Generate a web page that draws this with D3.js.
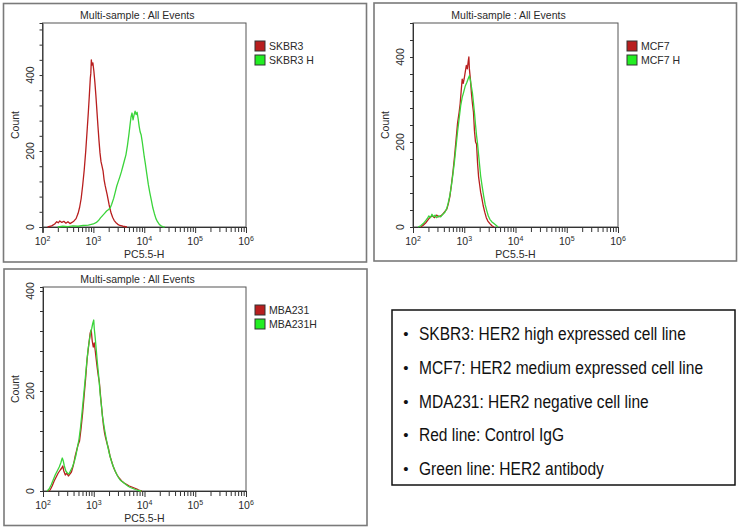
<!DOCTYPE html>
<html>
<head>
<meta charset="utf-8">
<script src="https://cdn.jsdelivr.net/npm/d3@7"></script>
<style>
  html, body { margin: 0; padding: 0; background: #fff; }
  svg { display: block; font-family: "Liberation Sans", Arial, sans-serif; }
</style>
</head>
<body>
<svg id="chart" width="742" height="529"></svg>
<script>
// ---------------- DATA ----------------
const titleText = "Multi-sample : All Events";
const xAxisLabel = "PC5.5-H";
const yAxisLabel = "Count";
const xTickExponents = [2, 3, 4, 5, 6];
const yTickLabels = [0, 200, 400];

// legend names per panel (control, antibody)
const skbr3Names = ["SKBR3", "SKBR3 H"];
const mcf7Names = ["MCF7", "MCF7 H"];
const mba231Names = ["MBA231", "MBA231H"];

// histogram series: log10(PC5.5-H) and count
const skbr3Exp   = [2.10,2.18,2.24,2.28,2.31,2.34,2.38,2.42,2.46,2.50,2.54,2.58,2.62,2.66,2.70,2.73,2.76,2.79,2.82,2.85,2.88,2.90,2.92,2.94,2.95,2.96,2.97,2.99,3.01,3.03,3.05,3.07,3.09,3.11,3.13,3.15,3.17,3.19,3.21,3.23,3.25,3.27,3.29,3.31,3.33,3.35,3.38,3.41,3.44,3.48,3.52,3.58,3.66];
const skbr3Count = [0,3,8,14,11,16,12,15,10,14,9,12,16,22,36,52,75,110,150,200,260,300,345,392,405,440,426,432,410,380,345,305,265,228,195,172,160,148,125,110,98,86,72,58,46,36,25,17,12,7,4,2,0];

const skbr3HExp   = [2.30,2.40,2.50,2.60,2.70,2.80,2.90,3.00,3.06,3.10,3.14,3.18,3.22,3.26,3.30,3.33,3.36,3.40,3.43,3.46,3.49,3.52,3.55,3.58,3.61,3.64,3.67,3.70,3.72,3.74,3.76,3.78,3.80,3.82,3.84,3.86,3.88,3.90,3.92,3.94,3.96,3.98,4.00,4.02,4.05,4.08,4.11,4.14,4.17,4.20,4.23,4.26,4.29,4.32,4.36,4.40];
const skbr3HCount = [0,2,1,3,2,4,5,8,12,17,24,30,36,42,46,50,60,76,92,108,120,132,145,160,175,190,215,245,268,290,300,282,295,305,296,302,285,265,250,242,225,205,185,168,140,112,90,70,50,35,22,14,8,4,1,0];

const mcf7Exp   = [2.15,2.20,2.25,2.30,2.34,2.38,2.42,2.46,2.50,2.54,2.58,2.62,2.66,2.69,2.72,2.75,2.78,2.81,2.84,2.87,2.90,2.92,2.94,2.96,2.98,3.00,3.02,3.04,3.06,3.08,3.09,3.10,3.12,3.14,3.16,3.18,3.20,3.22,3.24,3.26,3.28,3.30,3.32,3.34,3.37,3.40,3.43,3.46,3.50,3.54,3.58];
const mcf7Count = [0,4,10,18,24,26,22,28,24,26,30,36,42,55,72,100,130,165,205,245,270,290,320,348,338,350,365,380,372,392,400,372,348,315,290,270,225,200,195,150,118,100,82,70,50,35,22,14,8,3,0];

const mcf7HExp   = [2.10,2.15,2.20,2.24,2.28,2.31,2.34,2.37,2.40,2.43,2.46,2.50,2.54,2.58,2.62,2.66,2.69,2.72,2.75,2.78,2.81,2.84,2.87,2.90,2.93,2.96,2.99,3.02,3.05,3.08,3.10,3.12,3.14,3.16,3.18,3.20,3.22,3.24,3.26,3.28,3.30,3.32,3.35,3.38,3.41,3.44,3.47,3.50,3.54,3.58,3.62,3.66];
const mcf7HCount = [0,3,8,14,20,26,22,30,24,28,22,26,24,30,34,44,58,75,98,125,155,190,225,255,285,305,318,332,340,350,356,345,330,315,292,268,240,215,195,170,145,120,95,72,52,38,26,18,12,8,4,0];

const mba231Exp   = [2.10,2.14,2.18,2.22,2.26,2.30,2.34,2.37,2.39,2.41,2.44,2.47,2.50,2.53,2.56,2.60,2.63,2.66,2.69,2.72,2.75,2.78,2.81,2.84,2.87,2.89,2.91,2.93,2.95,2.97,2.99,3.01,3.03,3.05,3.07,3.09,3.11,3.13,3.15,3.17,3.19,3.21,3.23,3.26,3.29,3.32,3.35,3.38,3.42,3.46,3.50,3.55,3.60,3.65,3.70,3.75,3.80,3.85,3.90,3.95];
const mba231Count = [0,2,10,20,28,36,42,46,50,40,32,36,30,34,38,52,68,80,92,100,125,155,190,225,265,282,300,316,322,300,288,296,280,262,245,230,218,195,172,152,132,118,108,96,85,70,60,50,40,32,26,20,16,13,10,8,6,4,1,0];

const mba231HExp   = [2.08,2.12,2.16,2.20,2.24,2.28,2.32,2.35,2.38,2.40,2.42,2.45,2.48,2.51,2.54,2.58,2.62,2.65,2.68,2.71,2.74,2.77,2.80,2.83,2.86,2.89,2.92,2.94,2.96,2.98,3.00,3.01,3.03,3.05,3.07,3.09,3.11,3.13,3.15,3.17,3.19,3.21,3.24,3.27,3.30,3.33,3.36,3.40,3.44,3.48,3.52,3.57,3.62,3.67,3.72,3.77,3.82,3.88,3.94];
const mba231HCount = [0,4,12,22,32,40,48,56,66,60,50,40,36,34,40,48,60,72,88,104,128,158,190,222,255,285,305,318,325,335,342,325,305,282,258,238,215,190,172,150,138,125,108,92,78,66,56,45,36,28,22,18,14,10,7,5,3,1,0];

const noteLines = [
  "SKBR3: HER2 high expressed cell line",
  "MCF7: HER2 medium expressed cell line",
  "MDA231: HER2 negative cell line",
  "Red line: Control IgG",
  "Green line: HER2 antibody"
];

// ---------------- LAYOUT ----------------
const svg = d3.select("#chart");
const RED = "#b81e1e", GREEN = "#3ad43a", TXT = "#2a2a2a";

const zip = (a, b) => a.map((v, i) => [v, b[i]]);

const panels = [
  { box: [3.5, 3.5, 366.5, 262], plot: { l: 42.5, r: 246, t: 23, b: 227 }, yMax: 537,
    names: skbr3Names, ctrl: zip(skbr3Exp, skbr3Count), ab: zip(skbr3HExp, skbr3HCount) },
  { box: [374, 3, 736.5, 261], plot: { l: 413, r: 618, t: 23, b: 227 }, yMax: 480,
    names: mcf7Names, ctrl: zip(mcf7Exp, mcf7Count), ab: zip(mcf7HExp, mcf7HCount) },
  { box: [4, 269, 367, 525.5], plot: { l: 43, r: 246, t: 287, b: 491 }, yMax: 408,
    names: mba231Names, ctrl: zip(mba231Exp, mba231Count), ab: zip(mba231HExp, mba231HCount) }
];

function drawPanel(p) {
  const g = svg.append("g");
  const [bx0, by0, bx1, by1] = p.box;
  g.append("rect").attr("x", bx0).attr("y", by0).attr("width", bx1 - bx0).attr("height", by1 - by0)
    .attr("fill", "#fff").attr("stroke", "#7a7a7a").attr("stroke-width", 1.6);

  const { l, r, t, b } = p.plot;
  const x = d3.scaleLog().domain([1e2, 1e6]).range([l, r]);
  const y = d3.scaleLinear().domain([0, p.yMax]).range([b, t]);

  // plot frame
  g.append("rect").attr("x", l).attr("y", t).attr("width", r - l).attr("height", b - t)
    .attr("fill", "none").attr("stroke", "#555").attr("stroke-width", 1);

  // x axis ticks (minor + major)
  const minor = [];
  for (let e = 2; e < 6; e++) for (let k = 2; k <= 9; k++) minor.push(k * Math.pow(10, e));
  const major = xTickExponents.map(e => Math.pow(10, e));
  const xAxisMinor = d3.axisBottom(x).tickValues(minor).tickSize(5).tickFormat("");
  const xAxisMajor = d3.axisBottom(x).tickValues(major).tickSize(6).tickFormat("");
  [xAxisMinor, xAxisMajor].forEach(ax => {
    const a = g.append("g").attr("transform", `translate(0,${b})`).call(ax);
    a.select(".domain").attr("stroke", "#333");
    a.selectAll(".tick line").attr("stroke", "#333");
  });
  xTickExponents.forEach(e => {
    const tx = g.append("text").attr("x", x(Math.pow(10, e))).attr("y", b + 18)
      .attr("text-anchor", "middle").attr("font-size", 10.5).attr("fill", TXT);
    tx.append("tspan").text("10");
    tx.append("tspan").attr("font-size", 7).attr("dy", -4).text(e);
  });
  g.append("text").attr("x", (l + r) / 2).attr("y", b + 31).attr("text-anchor", "middle")
    .attr("font-size", 10.5).attr("fill", TXT).text(xAxisLabel);

  // y axis
  const yAxis = d3.axisLeft(y).tickValues(d3.range(0, p.yMax, 40)).tickSize(3).tickFormat("");
  const ya = g.append("g").attr("transform", `translate(${l},0)`).call(yAxis);
  ya.select(".domain").attr("stroke", "#333");
  ya.selectAll(".tick line").attr("stroke", "#333");
  yTickLabels.forEach(v => {
    g.append("text").attr("transform", `translate(${l - 9},${y(v)}) rotate(-90)`)
      .attr("text-anchor", "middle").attr("font-size", 10.5).attr("fill", TXT).text(v);
  });
  g.append("text").attr("transform", `translate(${l - 24},${(t + b) / 2}) rotate(-90)`)
    .attr("text-anchor", "middle").attr("font-size", 10.5).attr("fill", TXT).text(yAxisLabel);

  // title
  g.append("text").attr("x", (l + r) / 2 - 7).attr("y", t - 4).attr("text-anchor", "middle")
    .attr("font-size", 10.5).attr("fill", TXT).text(titleText);

  // curves
  const line = d3.line().x(d => x(Math.pow(10, d[0]))).y(d => y(d[1]));
  g.append("path").datum(p.ctrl).attr("d", line).attr("fill", "none")
    .attr("stroke", RED).attr("stroke-width", 1.3).attr("stroke-linejoin", "round");
  g.append("path").datum(p.ab).attr("d", line).attr("fill", "none")
    .attr("stroke", GREEN).attr("stroke-width", 1.3).attr("stroke-linejoin", "round");

  // legend
  [RED, "#22ee22"].forEach((c, i) => {
    const ly = t + 18 + i * 14;
    g.append("rect").attr("x", r + 9).attr("y", ly).attr("width", 10).attr("height", 10)
      .attr("fill", c).attr("stroke", "#333").attr("stroke-width", 1);
    g.append("text").attr("x", r + 23).attr("y", ly + 9).attr("font-size", 10.5)
      .attr("fill", TXT).text(p.names[i]);
  });
}

panels.forEach(drawPanel);

// note box
svg.append("rect").attr("x", 392).attr("y", 310).attr("width", 343).attr("height", 175)
  .attr("fill", "#fff").attr("stroke", "#111").attr("stroke-width", 1.5);
noteLines.forEach((s, i) => {
  const by = 340 + i * 33.8;
  svg.append("text").attr("x", 406).attr("y", by - 1).attr("text-anchor", "middle")
    .attr("font-size", 15).attr("fill", "#111").text("\u2022");
  svg.append("g").attr("transform", `translate(419,${by}) scale(0.84,1)`)
    .append("text").attr("x", 0).attr("y", 0).attr("font-size", 18.5)
    .attr("fill", "#111").text(s);
});
</script>
</body>
</html>
